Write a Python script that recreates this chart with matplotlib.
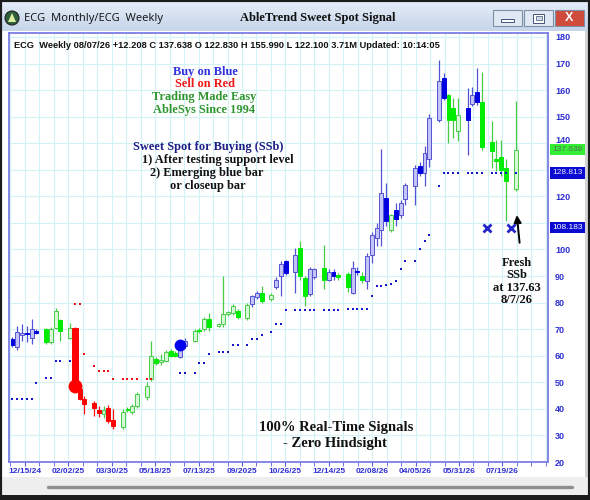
import numpy as np
import matplotlib
matplotlib.use('Agg')
import matplotlib.pyplot as plt
import matplotlib.transforms as mtransforms
from matplotlib.patches import Rectangle, Circle, Polygon
from matplotlib.colors import LinearSegmentedColormap

W, H = 590, 500

# one slot per weekly bar, '.' marks an empty slot on the chart
# b = blue (buy), r = red (sell), g = green (neutral)
trend = ("bbbbbb.ggg"
         "g.grrr.rrg"
         "rr.gggg.gg"
         "gggggbb.gg"
         "gg.ggggg.g"
         "bbg.gbbb.b"
         "ggbb.gbbg."
         "gbbgbbbbbg"
         "bbb.bbbb.b"
         "bggg.bbbg."
         "gggg.g")

bar_open = [66.2, 63.2, 67.8, 68.6, 66.8, 69.3, None, 70.0, 65.0, 70.6,
            73.4, None, 66.8, 70.6, 47.4, 43.7, None, 42.2, 39.7, 38.2,
            40.5, 35.8, None, 33.0, 40.0, 38.7, 41.2, None, 44.3, 51.2,
            58.7, 57.8, 58.0, 61.8, 61.2, 59.4, 63.7, None, 65.6, 69.8,
            70.0, 73.7, None, 71.5, 71.9, 76.0, 76.2, 76.8, None, 74.3,
            79.3, 82.0, 83.5, None, 81.2, 86.0, 90.0, 95.6, None, 91.5,
            100.6, 89.4, 83.1, 89.7, None, 93.0, 88.7, 91.5, 90.2, None,
            90.6, 83.7, 92.0, 90.2, 88.1, 98.1, 104.4, 107.5, 119.4, 107.5,
            115.0, 113.1, 119.0, None, 123.8, 131.5, 128.8, 134.0, None, 148.8,
            164.5, 158.2, 153.2, 144.7, None, 153.4, 154.7, 159.2, 155.7, None,
            140.4, 134.2, 135.0, 130.7, None, 122.83]

bar_high = [67.0, 71.2, 71.9, 71.2, 74.0, 70.0, None, 70.5, 71.0, 78.1,
            74.0, None, 72.5, 71.0, 47.8, 45.0, None, 43.0, 41.0, 41.0,
            41.5, 39.9, None, 40.0, 40.8, 42.0, 46.5, None, 50.0, 65.6,
            59.5, 60.6, 62.0, 62.5, 61.8, 64.0, 66.5, None, 70.0, 70.5,
            74.5, 76.2, None, 72.5, 90.0, 77.0, 79.5, 77.5, None, 80.0,
            83.0, 84.5, 86.2, None, 83.5, 89.5, 95.5, 96.0, None, 100.6,
            103.1, 90.0, 93.5, 93.0, None, 101.7, 92.5, 92.5, 91.0, None,
            91.5, 95.6, 93.5, 91.5, 98.8, 106.5, 110.0, 137.8, 125.0, 113.5,
            117.5, 118.5, 125.0, None, 131.9, 133.0, 138.8, 151.0, None, 171.4,
            166.4, 158.5, 157.0, 157.0, None, 160.7, 161.3, 168.2, 167.0, None,
            148.2, 141.3, 141.3, 134.0, None, 155.99]

bar_low = [63.3, 62.2, 65.6, 65.0, 64.3, 68.3, None, 64.5, 64.5, 70.0,
           65.6, None, 66.2, 47.4, 43.5, 38.0, None, 37.4, 37.0, 36.5,
           34.5, 32.4, None, 32.5, 38.8, 38.0, 40.5, None, 43.5, 50.5,
           56.5, 56.5, 57.5, 59.5, 59.5, 59.0, 63.0, None, 65.0, 68.5,
           69.5, 69.3, None, 70.8, 71.0, 75.0, 75.5, 74.0, None, 73.5,
           78.5, 81.5, 80.0, None, 80.5, 85.0, 82.5, 90.5, None, 83.7,
           88.7, 78.7, 82.5, 89.0, None, 85.0, 88.0, 88.7, 88.5, None,
           84.0, 83.1, 90.5, 87.5, 85.0, 95.1, 101.2, 101.2, 108.8, 106.5,
           108.8, 112.0, 116.9, None, 116.9, 127.5, 123.8, 131.0, None, 148.0,
           156.3, 140.1, 142.0, 140.7, None, 135.7, 154.0, 154.5, 137.6, None,
           130.7, 129.4, 127.5, 110.6, None, 122.10]

bar_close = [64.0, 69.1, 68.6, 68.0, 70.0, 68.8, None, 65.0, 70.0, 76.8,
             69.3, None, 70.6, 47.5, 43.7, 41.8, None, 40.3, 38.4, 39.5,
             35.5, 33.7, None, 38.7, 39.5, 41.2, 45.5, None, 48.7, 60.0,
             57.2, 58.3, 61.5, 60.0, 60.0, 63.2, 65.6, None, 69.3, 69.3,
             73.7, 70.7, None, 71.8, 75.6, 76.4, 78.7, 74.7, None, 79.0,
             82.5, 83.7, 80.6, None, 82.8, 88.7, 94.4, 91.2, None, 98.1,
             90.0, 82.5, 92.5, 92.5, None, 88.6, 91.5, 90.0, 89.8, None,
             86.0, 93.1, 91.5, 88.5, 97.5, 105.6, 108.1, 121.3, 110.6, 113.1,
             111.3, 117.5, 124.4, None, 130.7, 128.9, 136.3, 149.5, None, 163.3,
             157.0, 148.8, 148.8, 150.7, None, 148.8, 158.2, 155.7, 138.4, None,
             136.9, 133.5, 130.0, 125.7, None, 137.638]

# AbleTrend stops: blue dots under price, red dots over price
support = ([43.9, 43.9, 43.9, 43.9, 43.9, 49.9, None, 51.5, 51.5, 58.0,
            58.0, None, 58.0] + [None] * 22 +
           [53.6, 53.6, None, 53.6, 57.2,
            57.2, 60.6, None, 61.5, 61.5, 61.5, 64.0, 64.0, None, 64.0,
            66.2, 66.2, 67.8, None, 69.0, 71.8, 71.8, 77.2, None, 77.2,
            77.2, 77.2, 77.2, 77.2, None, 77.4, 77.4, 77.4, 77.4, None,
            77.5, 77.5, 77.5, 77.5, 77.5, 82.5, 86.2, 86.2, 86.5, 86.9,
            88.1, 92.5, 95.6, None, 95.6, 100.3, 103.1, 105.3, None, 123.8,
            128.8, 128.8, 128.8, 128.8, None, 128.8, 128.8, 128.8, 128.8, None,
            128.8, 128.8, 128.8, 128.8, None, 128.8])
resist = ([None] * 13 + [79.3, 79.3, 60.6, None, 56.3, 54.3, 54.3,
                         54.3, 51.4, None, 51.3, 51.3, 51.3, 51.3, None, 51.2, 51.2]
          + [None] * 76)

sell_slots, sell_prices = [13], [48.5]
buy_slots, buy_prices = [35], [64.0]
stop_slots, stop_prices = [99, 104], [108.183, 108.183]

last_values = [137.638, 128.813, 108.183]
last_faces = ['#33ee33', '#0a0ad0', '#0a0ad0']
last_texts = ['#5a6a5a', '#e8e8ff', '#ffffff']

price_ticks = [20, 30, 40, 50, 60, 70, 80, 90, 100, 120, 140, 150, 160, 170, 180]  # 110/130 sit under the boxes

date_labels = ['12/15/24', '02/02/25', '03/30/25', '05/18/25', '07/13/25', '09/2025',
               '10/26/25', '12/14/25', '02/08/26', '04/05/26', '05/31/26', '07/19/26']

plt.rcParams['font.family'] = ['Liberation Sans', 'DejaVu Sans']
SERIF = ['Liberation Serif', 'DejaVu Serif']


def fx(px):
    return px / W


def fy(py):
    return 1 - py / H


fig = plt.figure(figsize=(W / 100, H / 100), dpi=100)
fig.patch.set_facecolor('white')

# -- window chrome, drawn in pixel coords -- #
chrome = fig.add_axes([0, 0, 1, 1])
chrome.set_xlim(0, W)
chrome.set_ylim(H, 0)
chrome.axis('off')
grad = np.linspace(0, 1, 32).reshape(-1, 1)
tb_cmap = LinearSegmentedColormap.from_list('tb', ['#e6eef8', '#c6d5ea'])
chrome.imshow(grad, extent=(0, W, 31, 0), cmap=tb_cmap, aspect='auto')
chrome.add_patch(Rectangle((0, 477), W, 18, fc='#eeeeee', ec='none'))
chrome.plot([48, 572], [487, 487], color='#8f8f8f', lw=2.4, solid_capstyle='round')
chrome.add_patch(Rectangle((585, 31), 5, 446, fc='#d4d4d4', ec='none'))
chrome.add_patch(Rectangle((0, 0), W, H, fc='none', ec='#1c1c1c', lw=3))
chrome.add_patch(Rectangle((0, 495), W, 5, fc='#1c1c1c', ec='none'))

chrome.add_patch(Circle((12, 18), 7, fc='#2f5e3c', ec='#222222', lw=0.8))
chrome.add_patch(Polygon([[8, 22], [12, 13], [16, 22]], fc='#d8f0a0', ec='none'))
chrome.text(24, 18.5, 'ECG  Monthly/ECG  Weekly', fontsize=8, family=['Noto Sans', 'DejaVu Sans'],
            va='center', ha='left', color='#1a1a1a')
chrome.text(318, 18.5, 'AbleTrend Sweet Spot Signal', fontsize=9, family=SERIF, weight='bold',
            va='center', ha='center', color='#111111')

for x0, face in [(493, '#dfe8f3'), (524, '#dfe8f3'), (555, '#cf4b3c')]:
    chrome.add_patch(Rectangle((x0, 10), 29, 16, fc=face, ec='#7f8fa8', lw=0.8))
chrome.add_patch(Rectangle((501, 18.5), 13, 3.5, fc='white', ec='#44557a', lw=0.7))
chrome.add_patch(Rectangle((533, 13.5), 11, 9, fc='white', ec='#44557a', lw=0.7))
chrome.add_patch(Rectangle((535.5, 16), 6, 4, fc='#cfd9e8', ec='#44557a', lw=0.5))
chrome.text(569.5, 18, 'X', fontsize=9, weight='bold', color='white', ha='center', va='center')

# -- price chart -- #
ax = fig.add_axes([fx(9), fy(462), fx(548) - fx(9), (462 - 33) / H])
ax.set_facecolor('white')

slots = np.arange(len(trend))
o = np.array(bar_open, dtype=float)
h = np.array(bar_high, dtype=float)
l = np.array(bar_low, dtype=float)
c = np.array(bar_close, dtype=float)

filled = {'b': '#0000e0', 'g': '#00ec00', 'r': '#ff0000'}
hollow = {'b': '#c4c4f4', 'g': '#d6f8d6', 'r': '#ffc0c0'}
edge = {'b': '#5252d6', 'g': '#48cc48', 'r': '#ff1010'}

for i, t in enumerate(trend):
    if t == '.':
        continue
    ax.vlines(i, l[i], h[i], color=edge[t], lw=0.9, zorder=2)
    bottom, top = min(o[i], c[i]), max(o[i], c[i])
    if top - bottom < 0.6:
        mid = (top + bottom) / 2
        bottom, top = mid - 0.3, mid + 0.3
    down = c[i] < o[i]
    width = 1.25 if (t == 'r' and top - bottom > 15) else 0.82
    ax.add_patch(Rectangle((i - width / 2, bottom), width, top - bottom,
                           fc=filled[t] if down else hollow[t],
                           ec=filled[t] if down else edge[t], lw=0.7, zorder=3))

ax.plot(slots, np.array(support, dtype=float), 's', ms=2.0, mew=0, color='#1515cc', zorder=4)
ax.plot(slots, np.array(resist, dtype=float), 's', ms=2.0, mew=0, color='#ee1010', zorder=4)
ax.plot(sell_slots, sell_prices, 'o', ms=10, mew=0, color='#ff0000', zorder=5)
ax.plot(buy_slots, buy_prices, 'o', ms=8.5, mew=0, color='#0000ee', zorder=5)
ax.plot(stop_slots, stop_prices, 'x', ms=6, mew=2.0, color='#2424cc', zorder=5)

last = slots[-1]
ax.annotate('', xy=(last + 0.2, 114), xytext=(last + 0.9, 101.5),
            arrowprops=dict(arrowstyle='-|>', color='black', lw=1.4, mutation_scale=11))
ax.text(last + 0.3, 88, 'Fresh\nSSb\nat 137.63\n8/7/26', ha='center', va='center',
        family=SERIF, weight='bold', fontsize=9, linespacing=1.05, color='#111111')

ax.text(0.0095, 0.982,
        'ECG  Weekly 08/07/26 +12.208 C 137.638 O 122.830 H 155.990 L 122.100 3.71M Updated: 10:14:05',
        transform=ax.transAxes, fontsize=6.65, weight='bold', va='top', ha='left', color='#111111')

for val, fc, tc in zip(last_values, last_faces, last_texts):
    ax.text(1.008, val, f'{val:.3f}', transform=ax.get_yaxis_transform(), fontsize=6.0,
            color=tc, va='center', ha='left', clip_on=False, zorder=6,
            bbox=dict(boxstyle='square,pad=0.25', fc=fc, ec='none'))

ax.set_xlim(-0.73, 111.77)
ax.set_ylim(20, 181.5)

tick_step = 3.02
grid_pos = 2.6 + tick_step * np.arange(-1, 37)
ax.set_xticks(2.6 + 3 * tick_step * np.arange(len(date_labels)))
ax.set_xticklabels(date_labels, fontweight='bold')
ax.set_xticks(grid_pos, minor=True)
ax.tick_params(axis='x', which='both', length=3, pad=1.5, color='#5a5ad6',
               labelsize=6, labelcolor='#2f2fd2')

ax.yaxis.tick_right()
ax.set_yticks(np.arange(20, 181, 10), minor=True)
ax.set_yticks(price_ticks)
ax.set_yticklabels([str(v) for v in price_ticks], fontweight='bold')
ax.tick_params(axis='y', which='both', length=0, pad=5, labelsize=6.5, labelcolor='#2f2fd2')
# the 140 label peeks out just above the green close box
for lbl in ax.get_yticklabels():
    if lbl.get_text() == '140':
        lbl.set_transform(lbl.get_transform() +
                          mtransforms.ScaledTranslation(0, 3 / 72, fig.dpi_scale_trans))

ax.set_axisbelow(True)
ax.grid(True, which='both', axis='x', color='#d2f2f6', lw=0.8)
ax.grid(True, which='both', axis='y', color='#d2f2f6', lw=0.8)
for sp in ax.spines.values():
    sp.set_color('#7c7ce4')
    sp.set_linewidth(1.3)

# -- notes on the chart -- #
notes = [
    ('Buy on Blue', '#2f2fe0', 205, 71.7),
    ('Sell on Red', '#f01a1a', 205, 84.0),
    ('Trading Made Easy', '#2f962f', 204, 96.7),
    ('AbleSys Since 1994', '#2f962f', 204, 110.0),
    ('Sweet Spot for Buying (SSb)', '#1c1c86', 208, 147.3),
    ('1) After testing support level', '#111111', 218, 160.0),
    ('2) Emerging blue bar', '#111111', 207, 172.7),
    ('or closeup bar', '#111111', 208, 186.0),
]
for text, color, px, py in notes:
    fig.text(fx(px), fy(py), text, color=color, ha='center', va='center',
             family=SERIF, weight='bold', fontsize=8.9)

fig.text(fx(336), fy(428), '100% Real-Time Signals', ha='center', va='center',
         family=SERIF, weight='bold', fontsize=10.5, color='#111111')
fig.text(fx(335), fy(444), '- Zero Hindsight', ha='center', va='center',
         family=SERIF, weight='bold', fontsize=10.5, color='#111111')

fig.savefig('out.png', dpi=100)
